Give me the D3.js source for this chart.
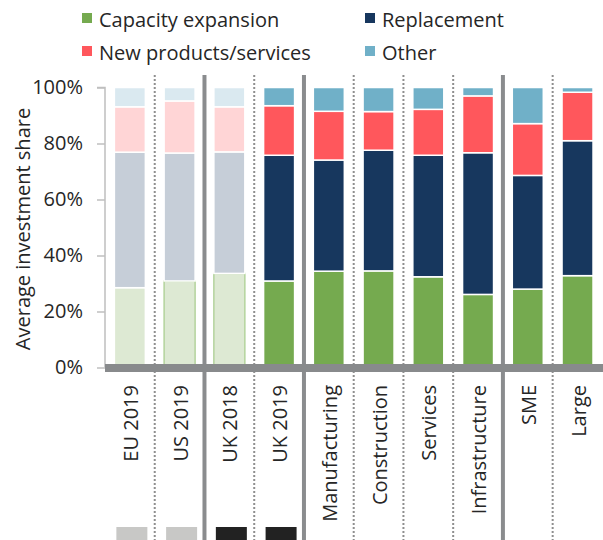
<!DOCTYPE html>
<html><head><meta charset="utf-8">
<script src="https://cdn.jsdelivr.net/npm/d3@7/dist/d3.min.js"></script>
<style>body{margin:0;background:#fff}svg{display:block}text{font-family:"Open Sans",sans-serif;fill:#262626}</style>
</head><body><svg id="c" width="603" height="540"></svg>
<script>
const categories = ["EU 2019","US 2019","UK 2018","UK 2019","Manufacturing","Construction","Services","Infrastructure","SME","Large"];
const seriesNames = ["Capacity expansion","Replacement","New products/services","Other"];
const capacity    = [28.5, 30.9, 33.6, 30.9, 34.4, 34.5, 32.4, 26.1, 28.0, 32.8];
const replacement = [48.4, 45.7, 43.4, 44.9, 39.7, 43.1, 43.4, 50.6, 40.6, 48.2];
const newProducts = [16.2, 18.6, 16.1, 17.7, 17.4, 13.8, 16.4, 20.3, 18.5, 17.3];
const other       = [ 6.9,  4.8,  6.9,  6.5,  8.5,  8.6,  7.8,  3.0, 12.9,  1.7];
const faded       = [true, true, true, false, false, false, false, false, false, false];
const yTicks = [0, 20, 40, 60, 80, 100];
const solidSeparators = [2, 4, 8];
const dottedSeparators = [1, 3, 5, 6, 7, 9];
const markerColors = ["#c8c8c6", "#c8c8c6", "#222222", "#222222"];

const colors = ["#75aa4f", "#17375e", "#ff575c", "#70b0c8"];
const fadedColors = ["#dde9d3", "#c6ced8", "#ffd5d6", "#dae9f0"];

const svg = d3.select("#c");
const x = d3.scaleBand().domain(categories).range([105, 602.4]).paddingInner(0.377).paddingOuter(0.1885);
const y = d3.scaleLinear().domain([0, 100]).range([367.5, 87.5]);
const step = x.step(), half = step * x.paddingInner() / 2;

const rows = categories.map((c, i) => ({cat: c, i, Capacity: capacity[i], Replacement: replacement[i], New: newProducts[i], Other: other[i]}));
const stack = d3.stack().keys(["Capacity","Replacement","New","Other"])(rows);

// separators
const sepX = k => x(categories[k]) - half;
svg.selectAll(".dsep").data(dottedSeparators).join("line")
  .attr("x1", sepX).attr("x2", sepX).attr("y1", 75).attr("y2", 540)
  .attr("stroke", "#8f8f8f").attr("stroke-width", 2).attr("stroke-dasharray", "2,2");
svg.selectAll(".ssep").data(solidSeparators).join("line")
  .attr("x1", sepX).attr("x2", sepX).attr("y1", 75).attr("y2", 540)
  .attr("stroke", "#8a8c8e").attr("stroke-width", 4);

// bars
stack.forEach((layer, s) => {
  svg.append("g").selectAll("rect").data(layer).join("rect")
    .attr("x", d => x(d.data.cat))
    .attr("width", x.bandwidth())
    .attr("y", d => y(d[1]))
    .attr("height", d => y(d[0]) - y(d[1]))
    .attr("fill", d => faded[d.data.i] ? fadedColors[s] : colors[s])
    .attr("stroke", d => (s === 0 && faded[d.data.i] && d.data.i > 0) ? "#b3d39c" : "#fff")
    .attr("stroke-width", 1.5);
});

// y axis
const yAxis = d3.axisLeft(y).tickValues(yTicks).tickFormat(d => d + "%").tickSize(8).tickPadding(14);
const ga = svg.append("g").attr("transform", "translate(105,0)").call(yAxis);
ga.select(".domain").attr("stroke", "#bfbfbf").attr("stroke-width", 1.5).attr("d", "M-8,87.5H0V367.5");
ga.selectAll(".tick line").attr("stroke", "#bfbfbf").attr("stroke-width", 1.5);
ga.selectAll(".tick text").style("font-family", '"Open Sans",sans-serif').style("font-size", "20px").attr("fill", "#262626");

// x axis thick bar
svg.append("rect").attr("x", 105).attr("y", 364).attr("width", 498).attr("height", 8).attr("fill", "#888a8c");

// x labels
svg.selectAll(".xl").data(categories).join("text")
  .attr("transform", d => `translate(${x(d) + x.bandwidth()/2 + 8},385) rotate(-90)`)
  .attr("text-anchor", "end").style("font-size", "20px").text(d => d);

// y title
svg.append("text").attr("transform", "translate(30,229) rotate(-90)").attr("text-anchor", "middle")
  .style("font-size", "20px").text("Average investment share");

// legend
const legendPos = [[82, 0], [365, 0], [82, 1], [365, 1]];
[0, 1, 2, 3].forEach(k => {
  const [lx, row] = legendPos[k];
  const ly = 13 + row * 33;
  svg.append("rect").attr("x", lx).attr("y", ly).attr("width", 10).attr("height", 10).attr("fill", colors[k]);
  svg.append("text").attr("x", lx + 17).attr("y", ly + 14).style("font-size", "20px").text(seriesNames[k]);
});

// bottom markers
svg.selectAll(".mk").data(markerColors).join("rect")
  .attr("x", (d, i) => x(categories[i]) + 2).attr("y", 527).attr("width", x.bandwidth()).attr("height", 13)
  .attr("fill", d => d);
</script></body></html>
